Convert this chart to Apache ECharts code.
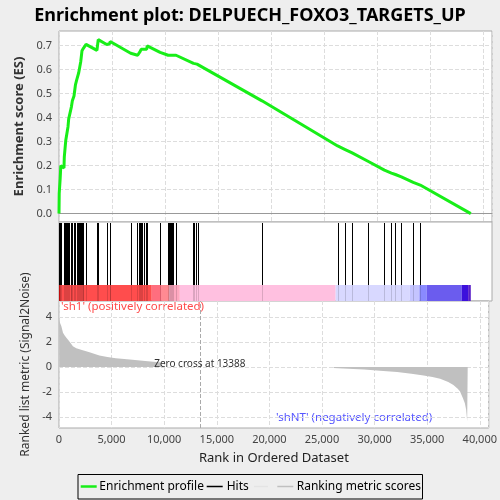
<!DOCTYPE html>
<html><head><meta charset="utf-8">
<script src="https://cdn.jsdelivr.net/npm/echarts@6/dist/echarts.min.js"></script>
<style>html,body{margin:0;padding:0;background:#eeeeee}#c{width:500px;height:500px}</style>
</head><body><div id="c"></div>
<script>
const titleText = 'Enrichment plot: DELPUECH_FOXO3_TARGETS_UP';
const esTicks = [0, 0.1, 0.2, 0.3, 0.4, 0.5, 0.6, 0.7];
const metricTicks = [-4, -2, 0, 2, 4];
const rankTickStep = 5000;
const rankMax = 40850;
const zeroCross = 13388;
const posLabel = "'sh1' (positively correlated)";
const negLabel = "'shNT' (negatively correlated)";

const hitRanks = [20,110,170,480,560,640,790,850,915,1100,1170,1260,1415,1550,1670,1800,1860,1950,2050,2170,2270,2300,2520,3590,3720,4530,4780,4830,6810,7400,7550,7610,7770,7870,7990,8245,8340,9540,10290,10380,10440,10540,10640,10750,11040,12650,12740,12960,13080,19150,26290,26950,27610,29190,30700,31360,31740,32300,33420,34080];

const esCurve = [[0,0],[20,0.084],[110,0.146],[170,0.20],[470,0.19],[500,0.236],[640,0.306],[790,0.300],[850,0.362],[915,0.395],[1100,0.39],[1170,0.445],[1260,0.47],[1415,0.49],[1550,0.536],[1670,0.557],[1860,0.587],[1980,0.59],[2050,0.633],[2170,0.679],[2300,0.689],[2550,0.705],[3580,0.68],[3700,0.725],[4500,0.705],[4550,0.712],[4780,0.708],[4830,0.717],[6760,0.668],[6810,0.672],[7420,0.660],[7520,0.665],[7660,0.676],[7750,0.685],[7900,0.692],[8270,0.685],[8320,0.699],[9540,0.672],[9590,0.677],[10300,0.660],[10350,0.665],[10680,0.660],[10730,0.666],[11040,0.660],[11080,0.664],[12690,0.626],[12740,0.630],[13020,0.623],[13060,0.627],[19150,0.470],[19200,0.474],[26290,0.282],[26330,0.285],[26950,0.268],[26990,0.271],[27610,0.254],[27650,0.257],[29190,0.217],[29230,0.220],[30700,0.181],[30740,0.186],[31360,0.169],[31400,0.173],[31740,0.163],[31780,0.167],[32300,0.153],[32340,0.158],[33420,0.130],[33460,0.136],[34080,0.119],[34120,0.125],[38850,0.0]];

const metricPositive = [[0,4.0],[30,3.8],[100,3.5],[225,3.25],[380,2.72],[540,2.5],[700,2.32],[1010,2.0],[1320,1.65],[1640,1.49],[2260,1.33],[2900,1.17],[3840,0.9],[4600,0.78],[5400,0.69],[6200,0.62],[6980,0.56],[8200,0.46],[9500,0.37],[9700,0.35]];
const metricNegative = [[26100,-0.08],[27000,-0.12],[29000,-0.2],[30500,-0.3],[32140,-0.4],[33500,-0.55],[34660,-0.68],[35500,-0.8],[36230,-0.95],[37000,-1.2],[37490,-1.44],[37900,-1.75],[38110,-1.95],[38400,-2.5],[38580,-2.9],[38700,-3.4],[38800,-4.35],[38850,-4.4]];

const colorBands = [[0,170],[170,8750],[8750,9700],[9700,10400],[10400,11400],[11400,26100],[26100,33100],[33100,34000],[34000,34700],[34700,38000],[38000,38600],[38600,38850]];
const bandColors = ['#e01010','#ff4d4d','#ff6e7e','#ff8a92','#ffa8c0','#ffc0e0','#d8d8ff','#c4c4ff','#8a8aff','#6b5cee','#3c10dc','#5a20c8'];

const FONT = 'Noto Sans';
const chart = echarts.init(document.getElementById('c'), null, {renderer:'canvas'});
const gridBase = {left:59, right:8, show:true, backgroundColor:'#ffffff', borderColor:'#aaaaaa', borderWidth:1};
const fmtRank = v => Math.round(v).toLocaleString('en-US');
const xBase = (gi) => ({gridIndex:gi, type:'value', min:0, max:rankMax, interval:rankTickStep,
  axisLabel:{show:false}, axisTick:{show:false}, axisLine:{show:false},
  splitLine:{show:true, lineStyle:{type:'dashed', color:'#dddddd'}}});

chart.setOption({
  backgroundColor:'#eeeeee',
  animation:false,
  textStyle:{fontFamily:FONT},
  title:{text:titleText, left:'center', top:2, textStyle:{fontFamily:FONT, fontSize:18, fontWeight:'bold', color:'#000'}},
  grid:[
    Object.assign({top:31, height:191}, gridBase),
    Object.assign({top:222, height:79}, gridBase),
    Object.assign({top:301, height:127}, gridBase)
  ],
  xAxis:[
    Object.assign(xBase(0), {axisLine:{show:true, onZero:true, lineStyle:{color:'#999999'}}}),
    Object.assign(xBase(1), {splitLine:{show:false}}),
    Object.assign(xBase(2), {
      axisLabel:{show:true, formatter:fmtRank, showMaxLabel:false, color:'#444', fontSize:11, margin:6, fontFamily:FONT},
      axisTick:{show:false},
      name:'Rank in Ordered Dataset', nameLocation:'middle', nameGap:24,
      nameTextStyle:{fontSize:13, color:'#222', fontFamily:FONT}
    })
  ],
  yAxis:[
    {gridIndex:0, type:'value', min:-0.035, max:0.761,
      axisLabel:{customValues:esTicks, formatter:v=>v.toFixed(1), color:'#444', fontSize:11, margin:7, fontFamily:FONT},
      axisTick:{show:false, customValues:esTicks}, axisLine:{show:false},
      splitLine:{show:true, lineStyle:{type:'dashed', color:'#dddddd'}},
      name:'Enrichment score (ES)', nameLocation:'middle', nameGap:28,
      nameTextStyle:{fontSize:13, color:'#333', fontWeight:'bold', fontFamily:FONT}},
    {gridIndex:1, type:'value', min:0, max:1, show:false, splitLine:{show:false}},
    {gridIndex:2, type:'value', min:-4.88, max:5.26,
      axisLabel:{customValues:metricTicks, formatter:v=>String(v), color:'#444', fontSize:11, margin:7, fontFamily:FONT},
      axisTick:{show:false, customValues:metricTicks}, axisLine:{show:false},
      splitLine:{show:true, lineStyle:{type:'dashed', color:'#dddddd'}},
      name:'Ranked list metric (Signal2Noise)', nameLocation:'middle', nameGap:18,
      nameTextStyle:{fontSize:12, color:'#333', fontFamily:FONT, padding:[0,0,0,0]}}
  ],
  series:[
    {type:'line', name:'Enrichment profile', xAxisIndex:0, yAxisIndex:0, data:esCurve, showSymbol:false,
      lineStyle:{color:'#18ee18', width:3}, itemStyle:{color:'#18ee18'}, z:5},
    {type:'custom', name:'bands', xAxisIndex:1, yAxisIndex:1, data:colorBands, clip:true,
      renderItem:(params, api) => {
        const a = api.coord([api.value(0), 0.2025]);
        const b = api.coord([api.value(1), 0]);
        return {type:'rect', shape:{x:a[0], y:a[1], width:Math.max(b[0]-a[0],0.5), height:b[1]-a[1]},
          style:{fill:bandColors[params.dataIndex]}};
      }},
    {type:'custom', name:'Hits', xAxisIndex:1, yAxisIndex:1, data:hitRanks.map(r=>[r]), clip:true, z:4,
      renderItem:(params, api) => {
        const t = api.coord([api.value(0), 1]);
        const m = api.coord([api.value(0), 0.2025]);
        const b = api.coord([api.value(0), 0]);
        const x = Math.round(t[0]) + 0.5;
        return {type:'group', children:[
          {type:'line', shape:{x1:x, y1:t[1]+1, x2:x, y2:m[1]}, style:{stroke:'#000', lineWidth:1}},
          {type:'line', shape:{x1:x, y1:m[1], x2:x, y2:b[1]}, style:{stroke:'rgba(0,0,0,0.14)', lineWidth:1}}
        ]};
      }},
    {type:'line', name:'Ranking metric scores', xAxisIndex:2, yAxisIndex:2, data:metricPositive, showSymbol:false,
      lineStyle:{width:0}, areaStyle:{color:'#c0c0c0', opacity:1}, itemStyle:{color:'#c0c0c0'},
      markLine:{silent:true, symbol:'none', label:{show:false}, data:[{xAxis:zeroCross}],
        lineStyle:{color:'#aaaaaa', type:'dashed', width:1}},
      markPoint:{symbol:'circle', symbolSize:0, data:[{coord:[zeroCross,0]}],
        label:{show:true, position:'inside', offset:[0,-3], formatter:'Zero cross at ' + zeroCross, color:'#333', fontSize:10, fontFamily:FONT}}},
    {type:'line', name:'Ranking metric scores neg', xAxisIndex:2, yAxisIndex:2, data:metricNegative, showSymbol:false,
      lineStyle:{width:0}, areaStyle:{color:'#c0c0c0', opacity:1}, itemStyle:{color:'#c0c0c0'}}
  ],
  graphic:[
    {type:'text', left:61, top:301, style:{text:posLabel, fill:'#ff4a4a', font:'11.5px "Noto Sans"'}},
    {type:'text', left:276, top:412, style:{text:negLabel, fill:'#5555ff', font:'11.5px "Noto Sans"'}},
    {type:'rect', shape:{x:78, y:474.5, width:344.5, height:24.5}, style:{fill:'none', stroke:'#000', lineWidth:1}},
    {type:'line', shape:{x1:80.7, y1:486.5, x2:96.7, y2:486.5}, style:{stroke:'#18ee18', lineWidth:2.5}},
    {type:'text', x:99.3, y:486.5, style:{text:'Enrichment profile', fill:'#000', font:'12px "Noto Sans"', textVerticalAlign:'middle'}},
    {type:'line', shape:{x1:206.7, y1:486.5, x2:222.7, y2:486.5}, style:{stroke:'#000', lineWidth:1.5}},
    {type:'text', x:226.7, y:486.5, style:{text:'Hits', fill:'#000', font:'12px "Noto Sans"', textVerticalAlign:'middle'}},
    {type:'line', shape:{x1:254, y1:486.5, x2:268, y2:486.5}, style:{stroke:'#e4e4e4', lineWidth:1.5}},
    {type:'line', shape:{x1:277.3, y1:486.5, x2:293.3, y2:486.5}, style:{stroke:'#c0c0c0', lineWidth:1.5}},
    {type:'text', x:296.7, y:486.5, style:{text:'Ranking metric scores', fill:'#000', font:'12px "Noto Sans"', textVerticalAlign:'middle'}}
  ]
});
</script>
</body></html>
